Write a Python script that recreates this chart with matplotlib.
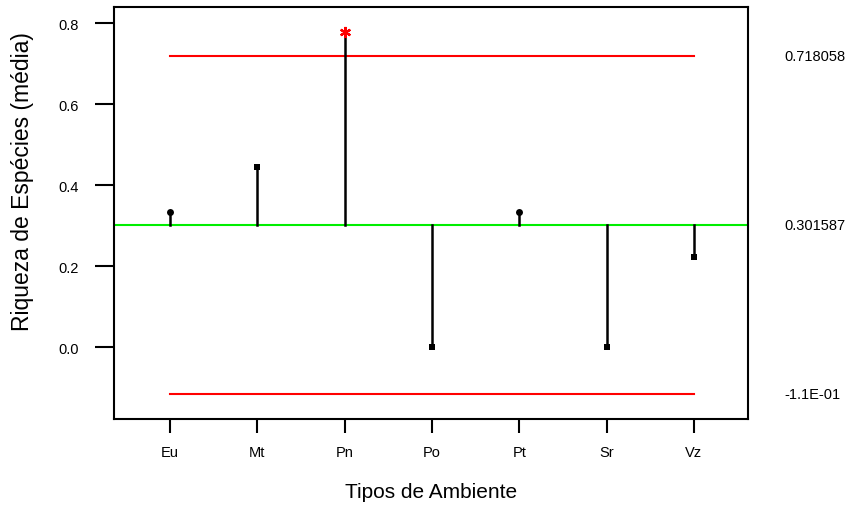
import numpy as np
import matplotlib.pyplot as plt

plt.rcParams['font.family'] = ['Liberation Sans', 'DejaVu Sans']

# Riqueza média por tipo de ambiente (ANOM)
ambientes = ['Eu', 'Mt', 'Pn', 'Po', 'Pt', 'Sr', 'Vz']
riqueza = [3/9, 4/9, 7/9, 0.0, 3/9, 0.0, 2/9]
media_geral = 0.301587
lim_sup = 0.718058
lim_inf = -0.114884
fora_controle = [False, False, True, False, False, False, False]
marcas = ['o', 's', (6, 2, 0), 's', 'o', 's', 's']

fig = plt.figure(figsize=(8.51, 5.06), dpi=100)
ax = fig.add_axes([0.134, 0.170, 0.745, 0.814])

x = np.arange(len(ambientes))

# linha central e limites de decisão
ax.axhline(media_geral, color='#00ee00', lw=1.5, zorder=1)
ax.plot([x[0], x[-1]], [lim_sup, lim_sup], color='red', lw=1.5, zorder=1)
ax.plot([x[0], x[-1]], [lim_inf, lim_inf], color='red', lw=1.5, zorder=1)

for xi, yi, fc, mk in zip(x, riqueza, fora_controle, marcas):
    ax.plot([xi, xi], [media_geral, yi], color='black', lw=1.8, zorder=2)
    if fc:
        ax.plot(xi, yi, marker=mk, color='red', ms=8, mew=1.6,
                zorder=3, linestyle='none')
    else:
        ax.plot(xi, yi, marker=mk, color='black', ms=5, mew=0,
                zorder=3, linestyle='none')

ax.set_xlim(-0.64, 6.62)
ax.set_ylim(-0.177, 0.840)
ax.set_xticks(x)
ax.set_xticklabels(ambientes)
ax.set_yticks([0.0, 0.2, 0.4, 0.6, 0.8])
ax.set_yticklabels(['0.0', '0.2', '0.4', '0.6', '0.8'])

for s in ax.spines.values():
    s.set_linewidth(1.5)
ax.tick_params(axis='y', length=14, width=1.5, labelsize=10.5, pad=11.5)
ax.tick_params(axis='x', length=10, width=1.5, labelsize=10.5, pad=9)

ax.set_xlabel('Tipos de Ambiente', fontsize=15, labelpad=16)
ax.set_ylabel('Riqueza de Espécies (média)', fontsize=16.5)
ax.yaxis.set_label_coords(-0.126, 0.578)

# valores dos limites à direita
for val, txt in [(lim_sup, '0.718058'), (media_geral, '0.301587'),
                 (lim_inf, '-1.1E-01')]:
    ax.annotate(txt, xy=(1.0, val), xycoords=('axes fraction', 'data'),
                xytext=(26.5, 0), textcoords='offset points',
                va='center', ha='left', fontsize=10.5)

fig.savefig('out.png', dpi=100)
